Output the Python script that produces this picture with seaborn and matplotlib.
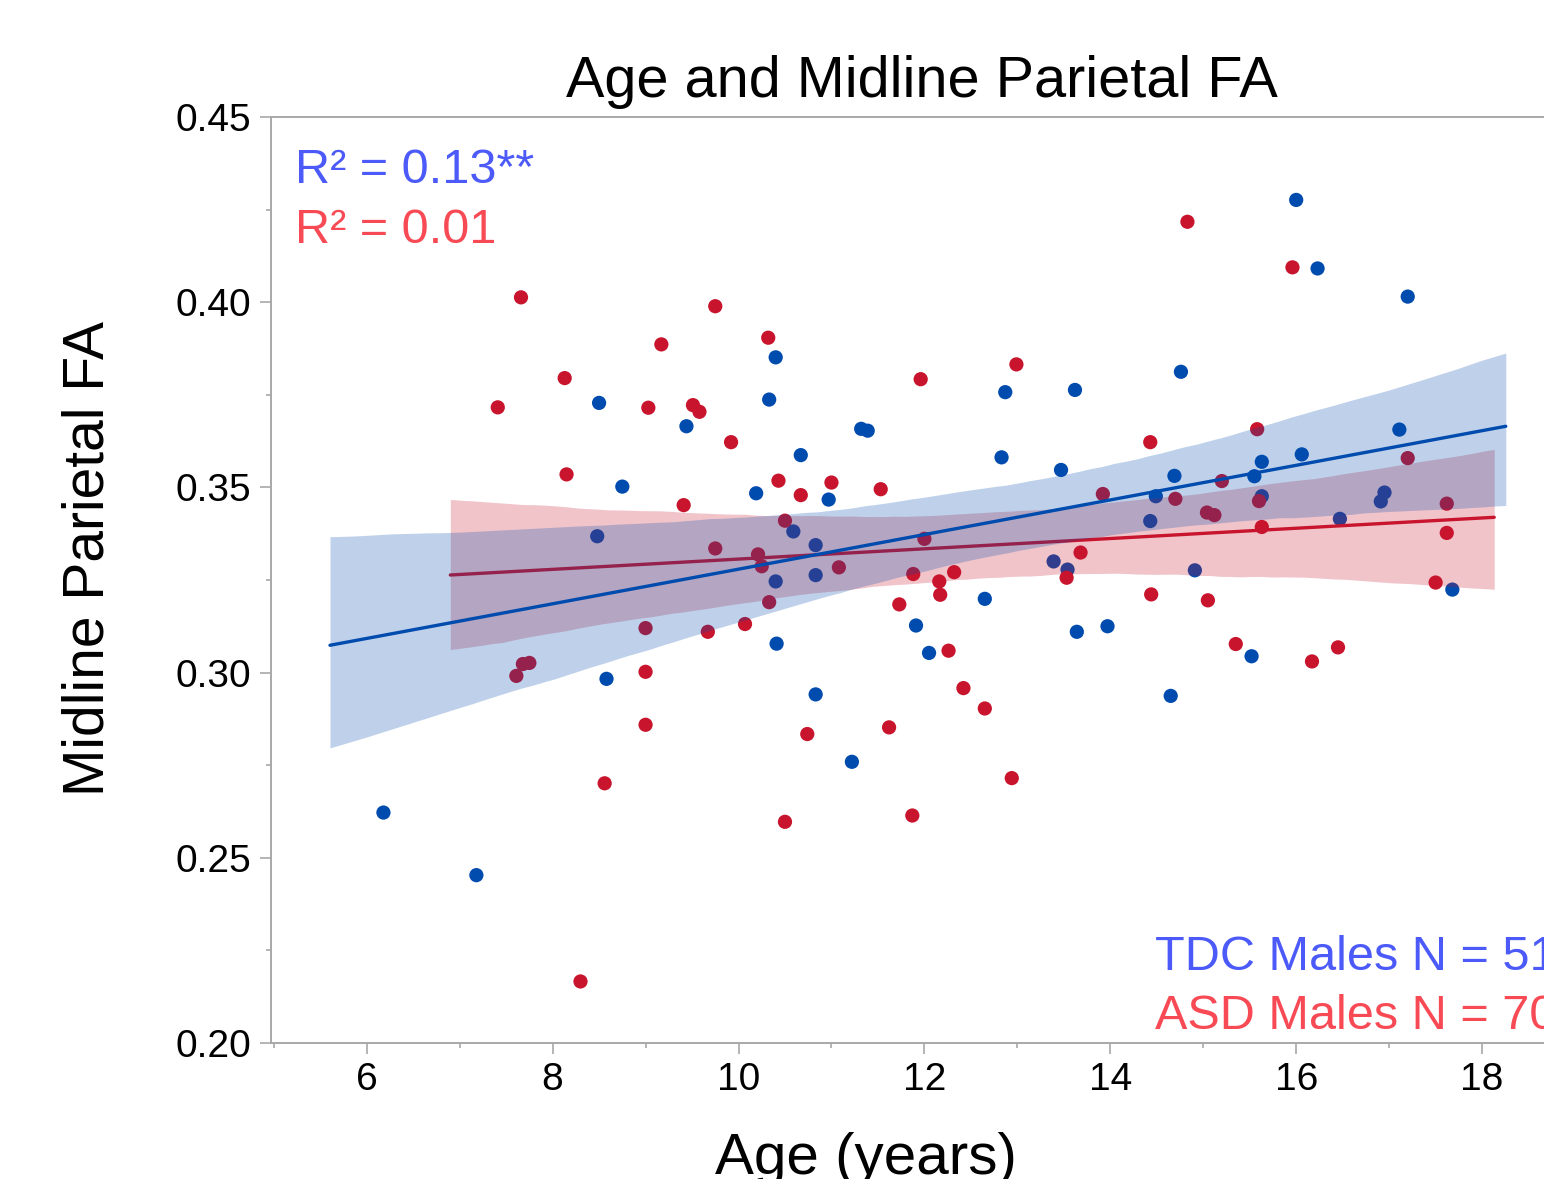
import numpy as np
import pandas as pd
import matplotlib
matplotlib.use('Agg')
import matplotlib.pyplot as plt
import seaborn as sns
from matplotlib.ticker import MultipleLocator, FormatStrFormatter

# TDC males (blue)
tdc_age = [6.18, 7.18, 8.50, 9.44, 8.75, 8.48, 8.58, 10.40, 10.33, 10.67,
           11.32, 11.39, 12.87, 13.62, 12.83, 13.47, 10.19, 10.97, 10.59, 10.83,
           10.83, 10.40, 10.41, 11.91, 12.05, 12.65, 13.39, 13.54, 13.64, 13.97,
           10.83, 11.22, 16.00, 16.23, 17.20, 14.76, 17.11, 15.63, 16.06, 14.69,
           15.55, 14.49, 14.43, 15.63, 16.47, 16.95, 16.91, 14.91, 17.68, 15.52,
           14.65]
tdc_fa = [0.2622, 0.2453, 0.3728, 0.3665, 0.3502, 0.3368, 0.2983, 0.3851, 0.3737, 0.3587,
          0.3658, 0.3653, 0.3757, 0.3763, 0.3581, 0.3547, 0.3484, 0.3467, 0.3381, 0.3344,
          0.3263, 0.3246, 0.3078, 0.3127, 0.3053, 0.3199, 0.3300, 0.3278, 0.3110, 0.3125,
          0.2941, 0.2759, 0.4276, 0.4091, 0.4015, 0.3812, 0.3656, 0.3569, 0.3589, 0.3531,
          0.3530, 0.3476, 0.3409, 0.3476, 0.3415, 0.3486, 0.3462, 0.3276, 0.3224, 0.3044,
          0.2937]

# ASD males (red)
asd_age = [7.66, 9.17, 8.13, 7.41, 9.03, 8.15, 9.75, 10.32, 11.96, 12.99,
           9.51, 9.58, 9.92, 10.43, 11.00, 14.83, 15.96, 14.43, 15.58, 17.20,
           15.20, 9.41, 9.00, 7.75, 7.68, 7.61, 9.00, 9.00, 8.56, 8.30,
           10.67, 11.53, 13.92, 10.50, 9.75, 10.21, 10.25, 11.08, 12.00, 10.33,
           11.88, 12.16, 12.32, 12.17, 11.73, 13.53, 13.68, 9.67, 10.07, 12.26,
           12.42, 12.65, 11.62, 10.74, 12.94, 10.50, 11.87, 14.70, 15.60, 15.04,
           15.12, 15.63, 17.62, 17.62, 14.44, 15.05, 17.50, 15.35, 16.17, 16.45]
asd_fa = [0.4013, 0.3886, 0.3795, 0.3716, 0.3715, 0.3535, 0.3989, 0.3904, 0.3792, 0.3832,
          0.3722, 0.3704, 0.3622, 0.3518, 0.3513, 0.4217, 0.4094, 0.3622, 0.3657, 0.3579,
          0.3517, 0.3452, 0.3120, 0.3026, 0.3023, 0.2991, 0.3002, 0.2859, 0.2701, 0.2166,
          0.3479, 0.3495, 0.3482, 0.3410, 0.3335, 0.3319, 0.3287, 0.3284, 0.3361, 0.3190,
          0.3266, 0.3246, 0.3271, 0.3210, 0.3184, 0.3256, 0.3324, 0.3110, 0.3131, 0.3059,
          0.2958, 0.2903, 0.2852, 0.2834, 0.2715, 0.2597, 0.2614, 0.3469, 0.3463, 0.3432,
          0.3425, 0.3393, 0.3456, 0.3377, 0.3211, 0.3195, 0.3243, 0.3077, 0.3030, 0.3068]

groups = ['TDC', 'ASD']
r2_labels = ['R\u00b2 = 0.13**', 'R\u00b2 = 0.01']
n_labels = ['TDC Males N = 51', 'ASD Males N = 70']

dot_colors = {'TDC': '#004BAE', 'ASD': '#C8152D'}
text_colors = {'TDC': '#4B5AF8', 'ASD': '#F84A55'}

sns.set_theme(style='white')
plt.rcParams['font.family'] = ['Liberation Sans', 'DejaVu Sans']
plt.rcParams['text.color'] = 'black'

df = pd.DataFrame({
    'age': tdc_age + asd_age,
    'fa': tdc_fa + asd_fa,
    'group': ['TDC'] * len(tdc_age) + ['ASD'] * len(asd_age),
})

fig = plt.figure(figsize=(15.44, 11.79), dpi=100)
ax = fig.add_axes([0.1755, 0.1154, 0.8446, 0.7854])

sns.scatterplot(data=df, x='age', y='fa', hue='group', palette=dot_colors,
                s=105, linewidth=0, legend=False, ax=ax, zorder=1)

# fit lines over the data range padded by 5% on each side, band drawn on top of the dots
z = 2
for g in ['ASD', 'TDC']:
    d = df[df.group == g]
    pad = 0.05 * (d.age.max() - d.age.min())
    ax.set_xlim(d.age.min() - pad, d.age.max() + pad)
    n_coll = len(ax.collections)
    sns.regplot(data=d, x='age', y='fa', scatter=False, truncate=False, ci=95,
                n_boot=2000, seed=3, color=dot_colors[g],
                line_kws=dict(lw=2.4), ax=ax)
    band = ax.collections[n_coll]
    band.set_alpha(0.25)
    band.set_linewidth(0)
    band.set_zorder(z)
    ax.lines[-1].set_zorder(z + 1)
    z += 2

ax.set_xlim(4.97, 19.0)
ax.set_ylim(0.2, 0.45)
ax.xaxis.set_major_locator(MultipleLocator(2))
ax.xaxis.set_minor_locator(MultipleLocator(1))
ax.yaxis.set_major_locator(MultipleLocator(0.05))
ax.yaxis.set_minor_locator(MultipleLocator(0.025))
ax.yaxis.set_major_formatter(FormatStrFormatter('%.2f'))

for s in ax.spines.values():
    s.set_color('#A8A8A8')
    s.set_linewidth(1.4)
ax.tick_params(which='both', direction='out', color='#A8A8A8', width=1.2,
               labelsize=28, labelcolor='black')
ax.tick_params(which='major', length=8)
ax.tick_params(which='minor', length=3.6)
ax.tick_params(axis='x', which='both', bottom=True, pad=6)
ax.tick_params(axis='y', which='both', left=True, pad=6)
ax.set_xlabel('')
ax.set_ylabel('')

ax.text(0.0184, 0.9287, r2_labels[0], transform=ax.transAxes, fontsize=35,
        color=text_colors['TDC'], va='baseline')
ax.text(0.0184, 0.8643, r2_labels[1], transform=ax.transAxes, fontsize=35,
        color=text_colors['ASD'], va='baseline')
ax.text(0.678, 0.0788, n_labels[0], transform=ax.transAxes, fontsize=35,
        color=text_colors['TDC'], va='baseline', clip_on=False)
ax.text(0.678, 0.0151, n_labels[1], transform=ax.transAxes, fontsize=35,
        color=text_colors['ASD'], va='baseline', clip_on=False)

fig.text(0.597, 0.9177, 'Age and Midline Parietal FA', ha='center', va='baseline',
         fontsize=41.5, color='black')
fig.text(0.5609, 0.0042, 'Age (years)', ha='center', va='baseline', fontsize=42, color='black')
fig.text(0.0575, 0.5265, 'Midline Parietal FA', rotation=90, ha='center', va='center',
         fontsize=41, color='black')

fig.savefig('out.png', dpi=100, facecolor='white')
